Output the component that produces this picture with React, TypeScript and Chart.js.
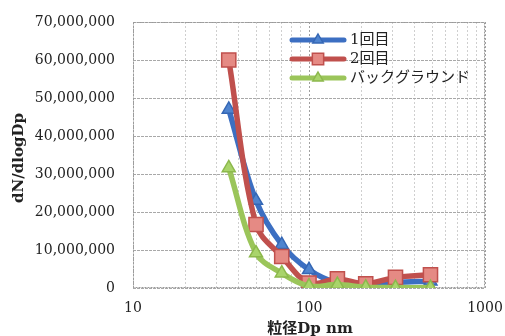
import React, { useEffect, useRef } from "react";
import { Chart, registerables } from "chart.js";

Chart.register(...registerables);

const diameters = [35, 50, 70, 100, 145, 210, 310, 490];
const run1 = [47000000, 23000000, 11400000, 4800000, 1300000, 600000, 1400000, 1800000];
const run2 = [60000000, 16700000, 8300000, 1300000, 2400000, 1100000, 2800000, 3500000];
const background = [31600000, 9200000, 3900000, 500000, 900000, 200000, 100000, 100000];
const seriesNames = ["1回目", "2回目", "バックグラウンド"];
const yTicks = [0, 10000000, 20000000, 30000000, 40000000, 50000000, 60000000, 70000000];
const xLabels = [10, 100, 1000];

const SERIF = "'DejaVu Serif', 'Liberation Serif', 'Noto Sans CJK JP', serif";

const styles = [
  { line: "#3c6fc2", fill: "#4f84cf", border: "#3567b5", shape: "triangle" },
  { line: "#c0504d", fill: "#e58a84", border: "#c0504d", shape: "rect" },
  { line: "#9bc55a", fill: "#a9d46b", border: "#8cb84c", shape: "triangle" },
];

function drawMarker(ctx: CanvasRenderingContext2D, shape: string, x: number, y: number, r: number, fill: string, stroke: string) {
  ctx.save();
  ctx.beginPath();
  if (shape === "rect") {
    const s = r * Math.SQRT1_2;
    ctx.rect(x - s, y - s, 2 * s, 2 * s);
  } else {
    ctx.moveTo(x, y - r);
    ctx.lineTo(x + r * 0.866, y + r * 0.5);
    ctx.lineTo(x - r * 0.866, y + r * 0.5);
    ctx.closePath();
  }
  ctx.fillStyle = fill;
  ctx.fill();
  ctx.lineWidth = 1.5;
  ctx.strokeStyle = stroke;
  ctx.stroke();
  ctx.restore();
}

const decorPlugin = {
  id: "decor",
  beforeDatasetsDraw(chart: any) {
    const { ctx, chartArea } = chart;
    ctx.save();
    ctx.strokeStyle = "#9a9a9a";
    ctx.lineWidth = 1;
    ctx.setLineDash([2, 1]);
    ctx.strokeRect(chartArea.left + 0.5, chartArea.top + 0.5, chartArea.right - chartArea.left - 1, chartArea.bottom - chartArea.top - 1);
    ctx.restore();
  },
  afterDraw(chart: any) {
    const { ctx } = chart;
    ctx.save();
    ctx.fillStyle = "#222";
    ctx.font = `bold 15px ${SERIF}`;
    ctx.textAlign = "center";
    ctx.textBaseline = "middle";
    ctx.fillText("粒径Dp nm", 310, 329);
    ctx.translate(19, 158);
    ctx.rotate(-Math.PI / 2);
    ctx.fillText("dN/dlogDp", 0, 0);
    ctx.restore();

    const rows = [40, 59, 78];
    seriesNames.forEach((name, i) => {
      const st = styles[i];
      const y = rows[i];
      ctx.save();
      ctx.strokeStyle = st.line;
      ctx.lineWidth = 5;
      ctx.lineCap = "round";
      ctx.beginPath();
      ctx.moveTo(292, y);
      ctx.lineTo(344, y);
      ctx.stroke();
      ctx.restore();
      drawMarker(ctx, st.shape, 318, y, st.shape === "rect" ? 8 : 6, st.fill, st.border);
      ctx.save();
      ctx.fillStyle = "#222";
      ctx.font = `15px ${SERIF}`;
      ctx.textAlign = "left";
      ctx.textBaseline = "middle";
      ctx.fillText(name, 350, y);
      ctx.restore();
    });
  },
};

export default function App() {
  const ref = useRef<HTMLCanvasElement>(null);

  useEffect(() => {
    if (!ref.current) return;
    const seriesData = [run1, run2, background];
    const chart = new Chart(ref.current, {
      type: "line",
      data: {
        datasets: seriesData.map((vals, i) => ({
          label: seriesNames[i],
          data: diameters.map((d, j) => ({ x: d, y: vals[j] })),
          borderColor: styles[i].line,
          backgroundColor: styles[i].fill,
          pointBackgroundColor: styles[i].fill,
          pointBorderColor: styles[i].border,
          pointBorderWidth: 1.5,
          pointStyle: styles[i].shape as any,
          pointRadius: styles[i].shape === "rect" ? 10 : 7.5,
          borderWidth: 5.5,
          tension: 0.35,
          fill: false,
          order: 2 - i,
        })),
      },
      options: {
        animation: false,
        responsive: false,
        maintainAspectRatio: false,
        layout: { padding: { left: 0, top: 22, right: 20, bottom: 0 } },
        plugins: { legend: { display: false }, tooltip: { enabled: false } },
        scales: {
          x: {
            type: "logarithmic",
            min: 10,
            max: 1000,
            afterFit: (s: any) => {
              s.height = 48;
              s.paddingLeft = 0;
              s.paddingRight = 0;
            },
            afterBuildTicks: (s: any) => {
              const t: any[] = [];
              for (let dec = 10; dec < 1000; dec *= 10) {
                for (let m = 1; m < 10; m++) t.push({ value: dec * m, major: m === 1 });
              }
              t.push({ value: 1000, major: true });
              s.ticks = t;
            },
            ticks: {
              autoSkip: false,
              maxRotation: 0,
              padding: 12,
              color: "#222",
              font: { family: SERIF, size: 14 },
              callback: (v: any) => (xLabels.includes(Number(v)) ? String(v) : ""),
            },
            grid: {
              drawTicks: false,
              color: (c: any) => (c.tick && xLabels.includes(c.tick.value) ? "#a0a0a0" : "#cfcfcf"),
              lineWidth: 1,
            },
            border: { display: false, dash: [2, 2] },
          },
          y: {
            min: 0,
            max: 70000000,
            afterFit: (s: any) => {
              s.width = 133;
              s.paddingTop = 0;
              s.paddingBottom = 0;
            },
            afterBuildTicks: (s: any) => {
              s.ticks = yTicks.map((v) => ({ value: v }));
            },
            ticks: {
              padding: 18,
              color: "#222",
              font: { family: SERIF, size: 14 },
              callback: (v: any) => Number(v).toLocaleString("en-US"),
            },
            grid: { drawTicks: false, color: "#a8a8a8", lineWidth: 1 },
            border: { display: false, dash: [3, 1] },
          },
        },
      },
      plugins: [decorPlugin],
    });
    return () => chart.destroy();
  }, []);

  return (
    <div style={{ position: "absolute", left: 0, top: 0, width: 505, height: 336, background: "#fff" }}>
      <canvas ref={ref} width={505} height={336} style={{ width: 505, height: 336 }} />
    </div>
  );
}
